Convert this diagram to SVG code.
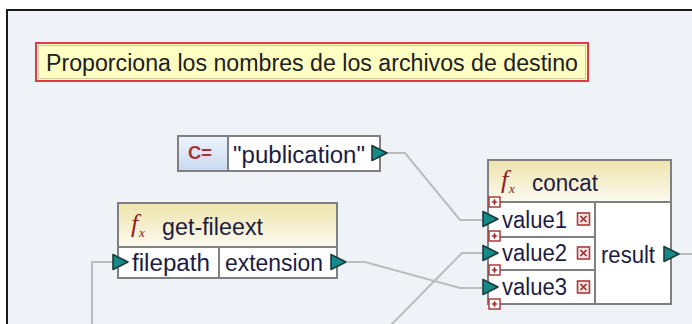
<svg xmlns="http://www.w3.org/2000/svg" xmlns:xlink="http://www.w3.org/1999/xlink" width="692" height="324" viewBox="0 0 692 324">
<style>
.t{font-family:"Liberation Sans",Arial,sans-serif;font-size:23px;fill:#1c1c44}
.box{fill:#ffffff;stroke:#808080;stroke-width:2}
.div{stroke:#808080;stroke-width:2;fill:none}
.fx{font-family:"Liberation Serif","Times New Roman",serif;font-style:italic;fill:#8e2020}
.conn{fill:none;stroke:#bcbcbc;stroke-width:2}
.sq{fill:#ffffff;stroke:#b03a3a;stroke-width:1.5}
.dot{fill:#b03a3a}
.xi{fill:#f4e4e4;stroke:#b03a3a;stroke-width:1.6}
.xl{fill:none;stroke:#9a2a2a;stroke-width:1.6}
</style>
<defs>
<linearGradient id="hdr" x1="0" y1="0" x2="0" y2="1">
<stop offset="0" stop-color="#eee4ad"/>
<stop offset="1" stop-color="#fcfaef"/>
</linearGradient>
<linearGradient id="cblue" x1="0" y1="0" x2="0" y2="1">
<stop offset="0" stop-color="#edf3fc"/>
<stop offset="1" stop-color="#c9daf2"/>
</linearGradient>
<path id="port" d="M0,-7.5 L15,0 L0,7.5 Z" fill="#158a8a" stroke="#1c3a3a" stroke-width="1.6" stroke-linejoin="round"/>
<g id="plus">
<rect class="sq" x="-5.5" y="-5" width="11" height="10"/>
<rect class="dot" x="-1.5" y="-1.5" width="3" height="3"/>
<rect class="dot" x="-3" y="-0.6" width="6" height="1.2"/>
<rect class="dot" x="-0.6" y="-3" width="1.2" height="6"/>
</g>
<g id="xic">
<rect class="xi" x="-6" y="-6" width="12" height="12"/>
<path class="xl" d="M-3,-3 L3,3 M3,-3 L-3,3"/>
</g>
</defs>

<rect x="0" y="0" width="692" height="324" fill="#ffffff"/>
<rect x="7" y="10" width="700" height="330" fill="#eff3f8" stroke="#1a1a1a" stroke-width="2"/>

<g id="comment">
<rect x="36" y="43" width="552" height="38" fill="#ffffc4" stroke="#e03a48" stroke-width="2"/>
<rect x="38.5" y="45.5" width="547" height="33" fill="none" stroke="#b0a890" stroke-width="1" opacity="0.6"/>
<text class="t" x="46" y="71" style="fill:#202020" textLength="532" lengthAdjust="spacingAndGlyphs">Proporciona los nombres de los archivos de destino</text>
</g>

<g id="connectors">
<path class="conn" d="M387,153 H405 L460,220 H483"/>
<path class="conn" d="M347,262 H365 L460,288 H483"/>
<path class="conn" d="M483,253 H462 L386,330"/>
<path class="conn" d="M113,262 H92 V330"/>
<path class="conn" d="M679,254 H700"/>
</g>

<g id="constant">
<rect class="box" x="178" y="136" width="202" height="35"/>
<rect x="179" y="137" width="49" height="33" fill="url(#cblue)"/>
<line class="div" x1="228" y1="136" x2="228" y2="171"/>
<text x="188" y="159" font-family="'Liberation Sans',Arial,sans-serif" font-weight="bold" font-size="19" fill="#a83232" textLength="24" lengthAdjust="spacingAndGlyphs">C=</text>
<text class="t" x="233" y="163" textLength="132" lengthAdjust="spacingAndGlyphs">"publication"</text>
<use xlink:href="#port" x="372" y="153"/>
</g>

<g id="get-fileext">
<rect class="box" x="118" y="203" width="219" height="75"/>
<rect x="119" y="204" width="217" height="43" fill="url(#hdr)"/>
<line class="div" x1="118" y1="247" x2="337" y2="247"/>
<line class="div" x1="219" y1="247" x2="219" y2="278"/>
<text class="fx" x="131" y="232" font-size="26">f</text>
<text class="fx" x="139" y="237" font-size="13" font-style="normal">x</text>
<text class="t" x="162" y="235" textLength="101" lengthAdjust="spacingAndGlyphs">get-fileext</text>
<text class="t" x="132" y="271" textLength="78" lengthAdjust="spacingAndGlyphs">filepath</text>
<text class="t" x="225" y="271" textLength="98" lengthAdjust="spacingAndGlyphs">extension</text>
<use xlink:href="#port" x="113" y="262"/>
<use xlink:href="#port" x="331" y="262"/>
</g>

<g id="concat">
<rect class="box" x="488" y="160" width="183" height="144"/>
<rect x="489" y="161" width="181" height="41" fill="url(#hdr)"/>
<line class="div" x1="488" y1="202" x2="671" y2="202"/>
<line class="div" x1="488" y1="237" x2="595" y2="237"/>
<line class="div" x1="488" y1="270" x2="595" y2="270"/>
<line class="div" x1="595" y1="202" x2="595" y2="304"/>
<text class="fx" x="501" y="188" font-size="26">f</text>
<text class="fx" x="509" y="193" font-size="13" font-style="normal">x</text>
<text class="t" x="532" y="191" textLength="66" lengthAdjust="spacingAndGlyphs">concat</text>
<text class="t" x="502" y="228" textLength="65" lengthAdjust="spacingAndGlyphs">value1</text>
<text class="t" x="502" y="261" textLength="65" lengthAdjust="spacingAndGlyphs">value2</text>
<text class="t" x="502" y="295" textLength="65" lengthAdjust="spacingAndGlyphs">value3</text>
<text class="t" x="601" y="263" textLength="54" lengthAdjust="spacingAndGlyphs">result</text>
<use xlink:href="#xic" x="583.5" y="219"/>
<use xlink:href="#xic" x="583.5" y="253"/>
<use xlink:href="#xic" x="583.5" y="287"/>
<use xlink:href="#plus" x="494.5" y="202"/>
<use xlink:href="#plus" x="494.5" y="236"/>
<use xlink:href="#plus" x="494.5" y="270"/>
<use xlink:href="#plus" x="494.5" y="304"/>
<use xlink:href="#port" x="483" y="219"/>
<use xlink:href="#port" x="483" y="253"/>
<use xlink:href="#port" x="483" y="287"/>
<use xlink:href="#port" x="664" y="254"/>
</g>
</svg>
